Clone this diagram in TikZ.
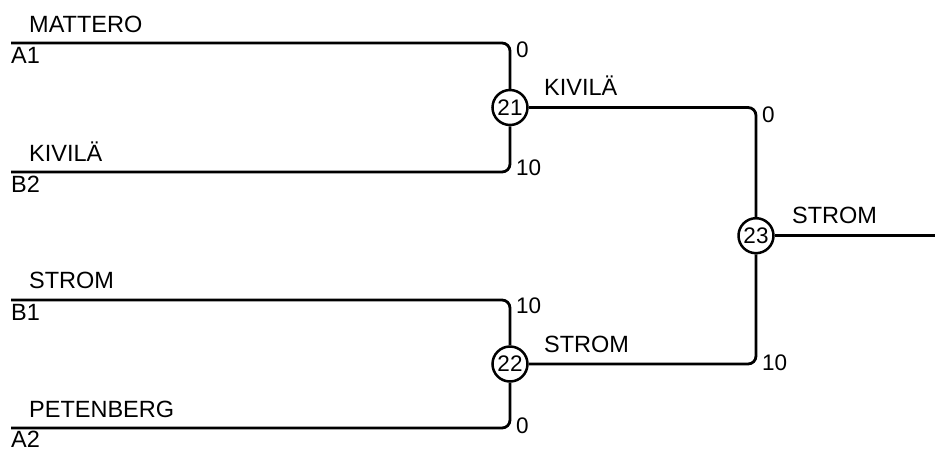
\documentclass[tikz,border=0pt]{standalone}
\usepackage{fontspec}
\setmainfont{Liberation Sans}
\usetikzlibrary{positioning}

\begin{document}
\begin{tikzpicture}[x=1pt, y=-1pt,
    wire/.style={line width=2.8pt, rounded corners=8pt},
    game/.style={circle, draw, line width=2.5pt, minimum size=35pt, inner sep=0pt, fill=white, font=\fontsize{22.5}{24}\selectfont},
    player/.style={anchor=base west, inner sep=0pt, font=\fontsize{23.5}{26}\selectfont},
    score/.style={anchor=west, inner sep=0pt, font=\fontsize{22.5}{24}\selectfont}]
    \useasboundingbox (0,0) rectangle (935,448);
    % matches
    \node[game] (m21) at (510,107.5) {21};
    \node[game] (m22) at (510,364) {22};
    \node[game] (m23) at (756,235.7) {23};
    % entry lines
    \coordinate (a1) at (11,43);
    \coordinate (b2) at (11,172);
    \coordinate (b1) at (11,300);
    \coordinate (a2) at (11,428);
    \coordinate (final) at (935,235.7);
    \draw[wire] (a1) -| (m21);
    \draw[wire] (b2) -| (m21);
    \draw[wire] (b1) -| (m22);
    \draw[wire] (a2) -| (m22);
    \draw[wire] (m21) -| (m23);
    \draw[wire] (m22) -| (m23);
    \draw[wire] (m23) -- (final);
    % names and seeds
    \node[player] (mattero) at (29,32) {MATTERO};
    \node[player] (seedA1) at (11,63.4) {A1};
    \node[player] (kivila) at (29,161) {KIVILÄ};
    \node[player] (seedB2) at (11,192) {B2};
    \node[player] (strom) at (29,288) {STROM};
    \node[player] (seedB1) at (11,320) {B1};
    \node[player] (petenberg) at (29,417) {PETENBERG};
    \node[player] (seedA2) at (11,447.5) {A2};
    \node[player] (win21) at (544,95) {KIVILÄ};
    \node[player] (win22) at (544,352) {STROM};
    \node[player] (win23) at (792,223) {STROM};
    % scores
    \node[score] (sA1) at (516,50) {0};
    \node[score] (sB2) at (516,168) {10};
    \node[score] (sB1) at (516,306) {10};
    \node[score] (sA2) at (516,426) {0};
    \node[score] (s21) at (762,115) {0};
    \node[score] (s22) at (762,363) {10};
\end{tikzpicture}
\end{document}
